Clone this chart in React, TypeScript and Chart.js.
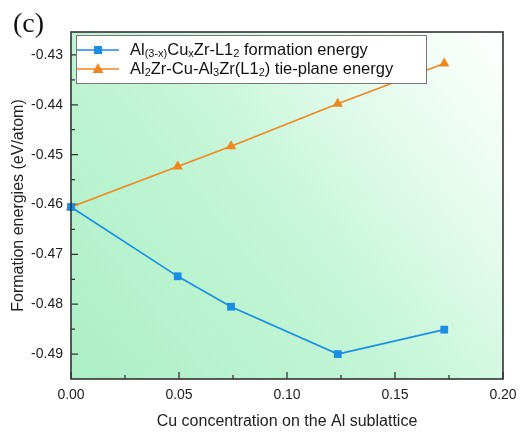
import React, { useEffect, useRef } from "react";
import { Chart, registerables } from "chart.js";
Chart.register(...registerables);

const cuConcentration = [0, 0.0494, 0.0741, 0.1235, 0.1728];
const formationEnergy = [-0.4605, -0.4744, -0.4805, -0.49, -0.4851];
const tiePlaneEnergy = [-0.4605, -0.4524, -0.4483, -0.4398, -0.4317];
const xTickValues = [0, 0.05, 0.1, 0.15, 0.2];
const yTickValues = [-0.49, -0.48, -0.47, -0.46, -0.45, -0.44, -0.43];
const xMinorTicks = [0.025, 0.075, 0.125, 0.175];
const yMinorTicks = [-0.485, -0.475, -0.465, -0.455, -0.445, -0.435];
const seriesLabels = [
  "Al(3-x)CuxZr-L12 formation energy",
  "Al2Zr-Cu-Al3Zr(L12) tie-plane energy",
];
// legend text segments: [text, isSubscript]
const legendSegments: [string, boolean][][] = [
  [["Al", false], ["(3-x)", true], ["Cu", false], ["x", true], ["Zr-L1", false], ["2", true], [" formation energy", false]],
  [["Al", false], ["2", true], ["Zr-Cu-Al", false], ["3", true], ["Zr(L1", false], ["2", true], [") tie-plane energy", false]],
];
const panelLabel = "(c)";
const xTitle = "Cu concentration on the Al sublattice";
const yTitle = "Formation energies (eV/atom)";

const BLUE = "#1b8de3";
const ORANGE = "#f0861f";
const FONT = "'Liberation Sans', Arial, sans-serif";

const decorPlugin = {
  id: "decor",
  beforeDatasetsDraw(chart: any) {
    const { ctx, chartArea: a } = chart;
    ctx.save();
    const g = ctx.createLinearGradient(a.left, a.bottom, a.right, a.top);
    g.addColorStop(0, "#acefc5");
    g.addColorStop(0.45, "#c2f5d6");
    g.addColorStop(0.8, "#eafcf1");
    g.addColorStop(1, "#ffffff");
    ctx.fillStyle = g;
    ctx.fillRect(a.left, a.top, a.right - a.left, a.bottom - a.top);
    // inward ticks
    const xs = chart.scales.x;
    const ys = chart.scales.y;
    ctx.strokeStyle = "#333";
    ctx.lineWidth = 1.3;
    ctx.beginPath();
    xTickValues.forEach((v) => {
      const p = xs.getPixelForValue(v);
      ctx.moveTo(p, a.bottom);
      ctx.lineTo(p, a.bottom - 7);
    });
    xMinorTicks.forEach((v) => {
      const p = xs.getPixelForValue(v);
      ctx.moveTo(p, a.bottom);
      ctx.lineTo(p, a.bottom - 4);
    });
    yTickValues.forEach((v) => {
      const p = ys.getPixelForValue(v);
      ctx.moveTo(a.left, p);
      ctx.lineTo(a.left + 7, p);
    });
    yMinorTicks.forEach((v) => {
      const p = ys.getPixelForValue(v);
      ctx.moveTo(a.left, p);
      ctx.lineTo(a.left + 4, p);
    });
    ctx.stroke();
    ctx.restore();
  },
  afterDraw(chart: any) {
    const { ctx, chartArea: a } = chart;
    ctx.save();
    ctx.strokeStyle = "#333";
    ctx.lineWidth = 1.6;
    ctx.strokeRect(a.left, a.top, a.right - a.left, a.bottom - a.top);
    // legend box
    const bx = 76.5, by = 35.5, bw = 350, bh = 48;
    ctx.fillStyle = "#ffffff";
    ctx.fillRect(bx, by, bw, bh);
    ctx.strokeStyle = "#777";
    ctx.lineWidth = 1;
    ctx.strokeRect(bx, by, bw, bh);
    const rows = [50, 69];
    chart.data.datasets.forEach((ds: any, i: number) => {
      const y = rows[i];
      ctx.strokeStyle = ds.borderColor;
      ctx.lineWidth = 1.6;
      ctx.beginPath();
      ctx.moveTo(77, y);
      ctx.lineTo(119, y);
      ctx.stroke();
      ctx.fillStyle = ds.backgroundColor;
      if (ds.pointStyle === "rect") {
        ctx.fillRect(98 - 4, y - 4, 8, 8);
      } else {
        ctx.beginPath();
        ctx.moveTo(98, y - 6);
        ctx.lineTo(103.5, y + 4);
        ctx.lineTo(92.5, y + 4);
        ctx.closePath();
        ctx.fill();
      }
      let x = 130;
      ctx.fillStyle = "#111";
      ctx.textBaseline = "middle";
      legendSegments[i].forEach(([t, sub]) => {
        ctx.font = sub ? `11px ${FONT}` : `16.5px ${FONT}`;
        ctx.fillText(t, x, sub ? y + 4 : y);
        x += ctx.measureText(t).width;
      });
    });
    // panel label
    ctx.fillStyle = "#111";
    ctx.textBaseline = "alphabetic";
    ctx.font = `28px 'Liberation Serif', 'Times New Roman', serif`;
    ctx.fillText(panelLabel, 13, 32);
    ctx.restore();
  },
};

export default function App() {
  const ref = useRef<HTMLCanvasElement>(null);
  useEffect(() => {
    if (!ref.current) return;
    const chart = new Chart(ref.current, {
      type: "line",
      data: {
        datasets: [
          {
            label: seriesLabels[0],
            data: cuConcentration.map((x, i) => ({ x, y: formationEnergy[i] })),
            borderColor: BLUE,
            backgroundColor: BLUE,
            pointStyle: "rect",
            pointRadius: 5.5,
            pointBorderWidth: 0,
            borderWidth: 1.6,
            clip: false as any,
          },
          {
            label: seriesLabels[1],
            data: cuConcentration.map((x, i) => ({ x, y: tiePlaneEnergy[i] })),
            borderColor: ORANGE,
            backgroundColor: ORANGE,
            pointStyle: "triangle",
            pointRadius: 6,
            pointBorderWidth: 0,
            borderWidth: 1.6,
            clip: false as any,
          },
        ],
      },
      options: {
        responsive: false,
        animation: false,
        layout: { padding: { left: 0, top: 32, right: 18, bottom: 0 } },
        plugins: { legend: { display: false }, tooltip: { enabled: false } },
        scales: {
          x: {
            type: "linear",
            min: 0,
            max: 0.2,
            afterBuildTicks: (s: any) => {
              s.ticks = xTickValues.map((value) => ({ value }));
            },
            afterFit: (s: any) => {
              s.height = 55;
              s.paddingLeft = 0;
              s.paddingRight = 0;
            },
            grid: { display: false, drawTicks: false },
            border: { display: false },
            ticks: {
              padding: 8,
              color: "#222",
              font: { family: FONT, size: 14 },
              callback: (v: any) => Number(v).toFixed(2),
            },
            title: {
              display: true,
              text: xTitle,
              color: "#222",
              font: { family: FONT, size: 16 },
              padding: { top: 4, bottom: 3 },
            },
          },
          y: {
            type: "linear",
            min: -0.495,
            max: -0.4254,
            afterBuildTicks: (s: any) => {
              s.ticks = yTickValues.map((value) => ({ value }));
            },
            afterFit: (s: any) => {
              s.width = 71;
              s.paddingTop = 0;
              s.paddingBottom = 0;
            },
            grid: { display: false, drawTicks: false },
            border: { display: false },
            ticks: {
              padding: 8,
              color: "#222",
              font: { family: FONT, size: 14 },
              callback: (v: any) => Number(v).toFixed(2),
            },
            title: {
              display: true,
              text: yTitle,
              color: "#222",
              font: { family: FONT, size: 16 },
              padding: { top: 9, bottom: 4 },
            },
          },
        },
      },
      plugins: [decorPlugin],
    });
    return () => chart.destroy();
  }, []);
  return (
    <div style={{ position: "fixed", left: 0, top: 0, width: 521, height: 434, background: "#fff" }}>
      <canvas ref={ref} width={521} height={434} />
    </div>
  );
}
